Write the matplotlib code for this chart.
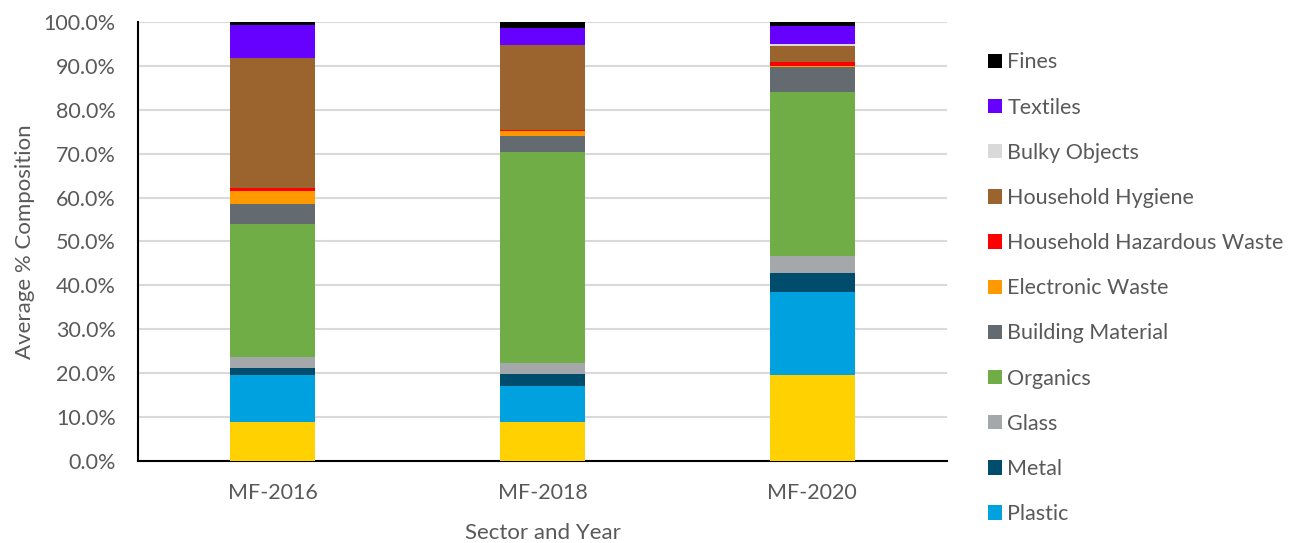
import numpy as np
import matplotlib.pyplot as plt
from matplotlib.ticker import PercentFormatter

plt.rcParams['font.family'] = ['Lato', 'DejaVu Sans']

# sector / year groups
groups = ['MF-2016', 'MF-2018', 'MF-2020']

# material categories, bottom of the stack first
materials = ['Paper', 'Plastic', 'Metal', 'Glass', 'Organics',
             'Building Material', 'Electronic Waste', 'Household Hazardous Waste',
             'Household Hygiene', 'Bulky Objects', 'Textiles', 'Fines']

# average % composition per material, one value per group
paper = [8.95, 8.9, 19.5]
plastic = [10.65, 8.2, 19.1]
metal = [1.5, 2.7, 4.2]
glass = [2.5, 2.6, 4.0]
organics = [30.3, 48.1, 37.3]
building = [4.7, 3.6, 5.6]
electronic = [2.9, 1.05, 0.3]
hazardous = [0.8, 0.35, 0.9]
hygiene = [29.6, 19.2, 3.6]
bulky = [0.0, 0.0, 0.4]
textiles = [7.4, 3.9, 4.2]
fines = [0.7, 1.4, 0.9]

series = [paper, plastic, metal, glass, organics, building, electronic,
          hazardous, hygiene, bulky, textiles, fines]

colors = ['#FFD100', '#00A1DF', '#004C6C', '#A5A8AB', '#70AD47', '#636B71',
          '#FF9900', '#FF0000', '#9B632D', '#D9D9D9', '#6600FF', '#000000']

txt = '#595959'

fig = plt.figure(figsize=(12.99, 5.43), dpi=100)
ax = fig.add_axes([0.1062, 0.151, 0.6228, 0.8085])

x = np.arange(len(groups))
bottom = np.zeros(len(groups))
handles = []
for name, vals, col in zip(materials, series, colors):
    b = ax.bar(x, vals, 0.315, bottom=bottom, color=col, label=name, zorder=3)
    handles.append(b)
    bottom += np.array(vals)

ax.set_xlim(-0.5, len(groups) - 0.5)
ax.set_ylim(0, 100)
ax.set_yticks(np.arange(0, 101, 10))
ax.yaxis.set_major_formatter(PercentFormatter(decimals=1))
ax.set_xticks(x)
ax.set_xticklabels(groups)
ax.grid(axis='y', color='#D9D9D9', linewidth=1.5, zorder=0)
ax.tick_params(length=0, labelsize=15.5, colors=txt, pad=16)
for s in ['top', 'right']:
    ax.spines[s].set_visible(False)
for s in ['left', 'bottom']:
    ax.spines[s].set_color('black')
    ax.spines[s].set_linewidth(1.5)

ax.set_ylabel('Average % Composition', fontsize=16, color=txt, labelpad=6)
ax.set_xlabel('Sector and Year', fontsize=16, color=txt, labelpad=14)

# legend runs top to bottom in reverse stack order; the last row falls below the canvas
fig.legend(handles[::-1], materials[::-1], loc='upper left',
           bbox_to_anchor=(0.7538, 0.9195), frameon=False, fontsize=15.5,
           labelcolor=txt, handlelength=0.65, handleheight=0.65,
           handletextpad=0.25, labelspacing=1.17, borderaxespad=0)

fig.savefig('out.png', dpi=100)
